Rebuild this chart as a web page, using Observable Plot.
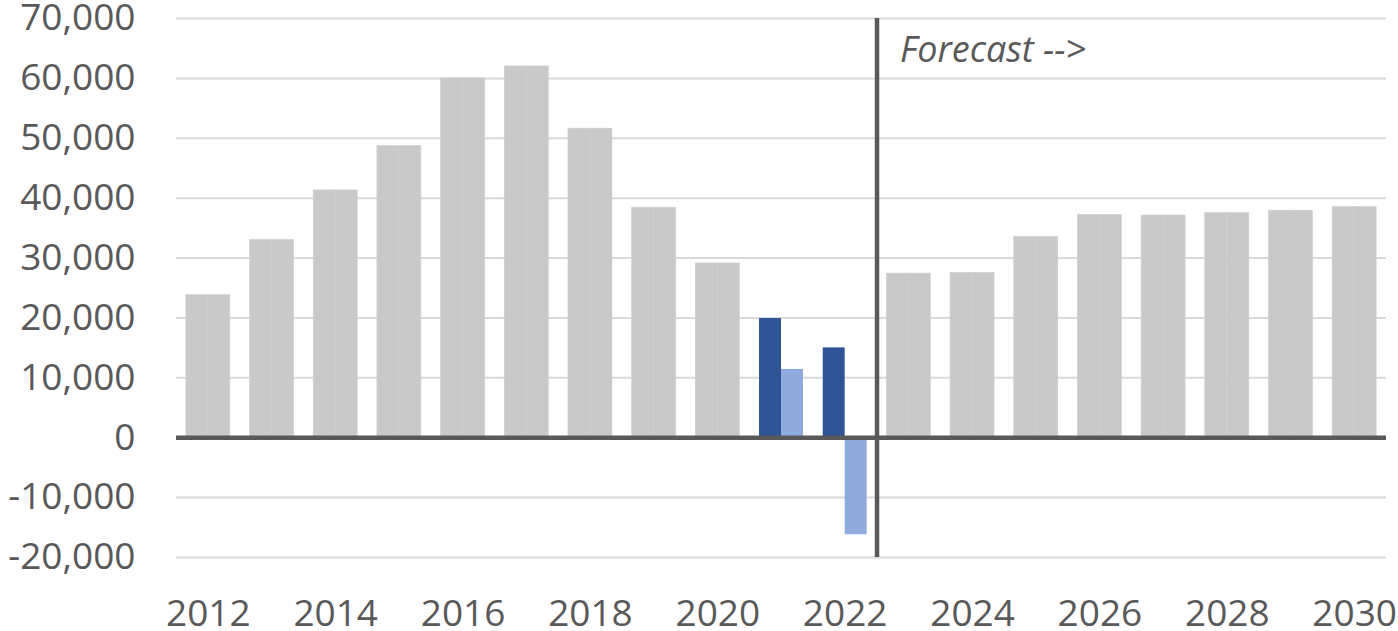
<!DOCTYPE html>
<html>
<head>
<meta charset="utf-8">
<script src="https://cdn.jsdelivr.net/npm/d3@7"></script>
<script src="https://cdn.jsdelivr.net/npm/@observablehq/plot@0.6"></script>
<style>
  html, body { margin: 0; padding: 0; background: #ffffff; }
  #chart svg { display: block; overflow: visible; }
</style>
</head>
<body>
<div id="chart"></div>
<script>
// ---- Data ----
const years = [2012, 2013, 2014, 2015, 2016, 2017, 2018, 2019, 2020, 2021,
               2022, 2023, 2024, 2025, 2026, 2027, 2028, 2029, 2030];
// left half of each year's bar pair
const leftValues = [23800, 33000, 41300, 48700, 60000, 62000, 51600, 38400, 29100, 19900,
                    15000, 27400, 27500, 33500, 37200, 37100, 37500, 37900, 38500];
// right half of each year's bar pair
const rightValues = [23800, 33000, 41300, 48700, 60000, 62000, 51600, 38400, 29100, 11400,
                     -16200, 27400, 27500, 33500, 37200, 37100, 37500, 37900, 38500];
const highlightYears = [2021, 2022];
const xTickYears = [2012, 2014, 2016, 2018, 2020, 2022, 2024, 2026, 2028, 2030];
const yTicks = [-20000, -10000, 0, 10000, 20000, 30000, 40000, 50000, 60000, 70000];
const forecastStart = 2022.5;
const forecastLabel = "Forecast -->";
const forecastLabelY = 65000;

// ---- Build rows ----
const rows = [];
years.forEach((yr, i) => {
  const hi = highlightYears.includes(yr);
  rows.push({year: yr, side: "left", value: leftValues[i], cat: hi ? "dark" : "gray"});
  rows.push({year: yr, side: "right", value: rightValues[i], cat: hi ? "light" : "gray"});
});

const half = 0.345;
const fmt = d3.format(",");
const yFormat = d => fmt(d).replace("\u2212", "-");

const chart = Plot.plot({
  width: 1398,
  height: 631,
  marginLeft: 176,
  marginRight: 12,
  marginTop: 18,
  marginBottom: 74,
  style: {fontFamily: "'Open Sans', sans-serif", fontSize: "37px", color: "#595959", background: "#ffffff", overflow: "visible"},
  x: {
    type: "linear",
    domain: [years[0] - 0.5, years[years.length - 1] + 0.5],
    ticks: xTickYears,
    tickFormat: d => String(d),
    tickSize: 0,
    tickPadding: 42,
    label: null
  },
  y: {
    domain: [yTicks[0], yTicks[yTicks.length - 1]],
    ticks: yTicks,
    tickFormat: yFormat,
    tickSize: 0,
    tickPadding: 41,
    label: null
  },
  color: {
    domain: ["gray", "dark", "light"],
    range: ["#c9c9c9", "#2f5597", "#8faadc"]
  },
  marks: [
    Plot.ruleY(yTicks, {stroke: "#d9d9d9", strokeWidth: 2}),
    Plot.rect(rows, {
      x1: d => d.side === "left" ? d.year - half : d.year,
      x2: d => d.side === "left" ? d.year : d.year + half,
      y1: () => 0,
      y2: "value",
      fill: "cat",
      stroke: d => d.cat === "gray" ? "#cfcfcf" : "none",
      strokeWidth: 0.7
    }),
    Plot.ruleY([0], {stroke: "#595959", strokeWidth: 4.5}),
    Plot.ruleX([forecastStart], {y1: yTicks[0], y2: yTicks[yTicks.length - 1], stroke: "#595959", strokeWidth: 4.5}),
    Plot.text([forecastLabel], {
      x: () => forecastStart,
      y: () => forecastLabelY,
      text: d => d,
      textAnchor: "start",
      dx: 23,
      dy: 2,
      fontSize: 36,
      fontStyle: "italic",
      fill: "#595959"
    })
  ]
});

document.getElementById("chart").appendChild(chart);
</script>
</body>
</html>
